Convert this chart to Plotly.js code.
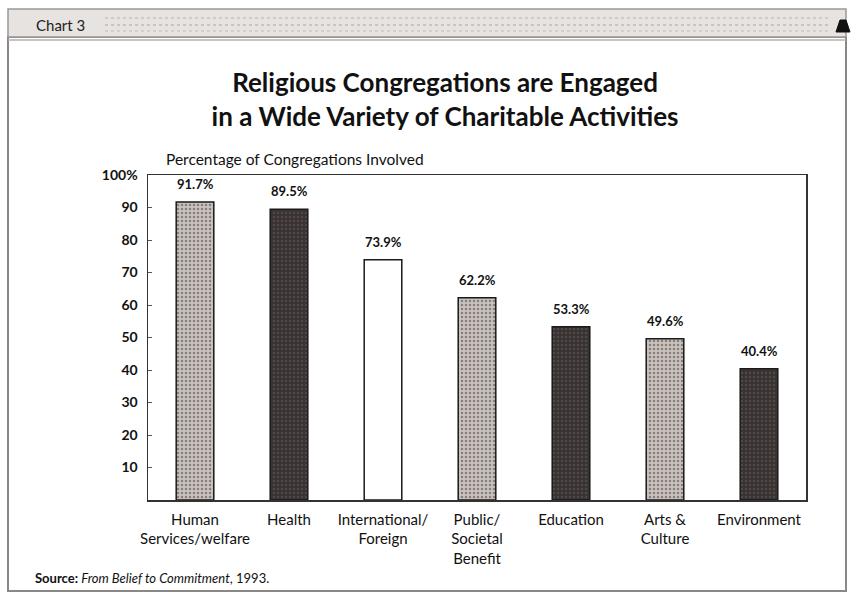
<!DOCTYPE html>
<html>
<head>
<meta charset="utf-8">
<script src="https://cdn.plot.ly/plotly-3.0.1.min.js"></script>
<style>
  html, body { margin: 0; padding: 0; background: #ffffff; }
  #chart { width: 851px; height: 597px; }
</style>
</head>
<body>
<div id="chart"></div>
<script>
// Share of congregations involved in each activity area (%)
const categories = [
  "Human<br>Services/welfare",
  "Health",
  "International/<br>Foreign",
  "Public/<br>Societal<br>Benefit",
  "Education",
  "Arts &amp;<br>Culture",
  "Environment"
];
const values = [91.7, 89.5, 73.9, 62.2, 53.3, 49.6, 40.4];
const yTickValues = [10, 20, 30, 40, 50, 60, 70, 80, 90, 100];
const yTickLabels = ["10", "20", "30", "40", "50", "60", "70", "80", "90", "100%"];

// Fill style per bar: stippled grey, solid dark, or open
const barStyle = ["grey", "dark", "open", "grey", "dark", "grey", "dark"];

const FONT = "Lato, 'Open Sans', sans-serif";

// Plot area in pixels: x 148..806, y 175..500
const L = 148, R = 806, T = 175, B = 500;
const px = x => (x - L) / (R - L);
const py = y => (B - y) / (B - T);

// One trace per fill style, each drawn at its own category slot
const looks = {
  grey: { color: "#bdb6b1", pattern: { shape: ".", fgcolor: "#867e7a", bgcolor: "#c9c2bd", size: 4, solidity: 0.3, fillmode: "replace" } },
  dark: { color: "#3a3434", pattern: { shape: ".", fgcolor: "#4f4846", bgcolor: "#383232", size: 4, solidity: 0.3, fillmode: "replace" } },
  open: { color: "#ffffff" }
};

const traces = Object.keys(looks).map(style => {
  const idx = barStyle.map((s, i) => s === style ? i : -1).filter(i => i >= 0);
  return {
    type: "bar",
    name: style,
    x: idx.map(i => categories[i]),
    y: idx.map(i => values[i]),
    width: 0.4,
    marker: Object.assign({ line: { color: "#1a1a1a", width: 1.5 } }, looks[style]),
    hoverinfo: "x+y"
  };
});

// Value labels above each bar
const valueLabels = categories.map((c, i) => ({
  x: c, y: values[i], xref: "x", yref: "y",
  text: "<b>" + values[i].toFixed(1) + "%</b>",
  showarrow: false, yanchor: "bottom", yshift: 8,
  font: { family: FONT, size: 13, color: "#111111" }
}));

const layout = {
  width: 851,
  height: 597,
  margin: { l: L, r: 851 - R, t: T, b: 597 - B, pad: 0 },
  paper_bgcolor: "#ffffff",
  plot_bgcolor: "#ffffff",
  showlegend: false,
  barmode: "overlay",
  font: { family: FONT, color: "#111111" },
  title: {
    text: "<b>Religious Congregations are Engaged<br>in a Wide Variety of Charitable Activities</b>",
    font: { family: FONT, size: 26, color: "#111111" },
    x: 0.523, xanchor: "center",
    y: 0.846, yanchor: "middle"
  },
  xaxis: {
    type: "category",
    categoryorder: "array", categoryarray: categories,
    range: [-0.5, 6.5],
    showline: true, linecolor: "#333333", linewidth: 1.5, mirror: true,
    ticks: "", showgrid: false, zeroline: false,
    tickfont: { family: FONT, size: 15, color: "#111111" },
    tickangle: 0,
    ticklabelstandoff: 5
  },
  yaxis: {
    range: [0, 100],
    showline: true, linecolor: "#333333", linewidth: 1.5, mirror: true,
    showgrid: false, zeroline: false,
    tickmode: "array", tickvals: yTickValues, ticktext: yTickLabels,
    ticks: "inside", ticklen: 4, tickcolor: "#555555",
    tickfont: { family: FONT, size: 14, color: "#111111", weight: "bold" },
    ticklabelstandoff: 6
  },
  shapes: [
    // outer frame
    { type: "rect", xref: "paper", yref: "paper",
      x0: px(8), x1: px(846), y0: py(591), y1: py(37),
      line: { color: "#8a8886", width: 2 }, fillcolor: "rgba(0,0,0,0)", layer: "below" },
    // header band
    { type: "rect", xref: "paper", yref: "paper",
      x0: px(8), x1: px(846), y0: py(37), y1: py(9),
      line: { color: "#9a9896", width: 1.5 }, fillcolor: "#e6e3e0", layer: "below" },
    { type: "line", xref: "paper", yref: "paper",
      x0: px(8), x1: px(846), y0: py(40), y1: py(40),
      line: { color: "#b5b2af", width: 1.5 } },
    // header texture lines
    { type: "line", xref: "paper", yref: "paper",
      x0: px(105), x1: px(830), y0: py(18), y1: py(18),
      line: { color: "#cfcbc8", width: 2, dash: "dot" } },
    { type: "line", xref: "paper", yref: "paper",
      x0: px(105), x1: px(830), y0: py(25), y1: py(25),
      line: { color: "#c8c4c1", width: 2, dash: "dot" } },
    { type: "line", xref: "paper", yref: "paper",
      x0: px(105), x1: px(830), y0: py(31), y1: py(31),
      line: { color: "#d2cfcc", width: 2, dash: "dot" } },
    // bell icon on the header
    { type: "path", xref: "paper", yref: "paper",
      path: "M " + px(836) + "," + py(32) + " L " + px(840) + "," + py(20) +
            " L " + px(846) + "," + py(20) + " L " + px(850) + "," + py(32) + " Z",
      fillcolor: "#111111", line: { color: "#111111", width: 1 } }
  ],
  annotations: valueLabels.concat([
    { text: "Chart 3", xref: "paper", yref: "paper",
      x: px(34), y: py(25), xanchor: "left", yanchor: "middle", showarrow: false,
      font: { family: FONT, size: 15, color: "#222222" } },
    { text: "Percentage of Congregations Involved", xref: "paper", yref: "paper",
      x: px(164), y: py(159), xanchor: "left", yanchor: "middle", showarrow: false,
      font: { family: FONT, size: 15.5, color: "#111111" } },
    { text: "<b>Source:</b> <i>From Belief to Commitment</i>, 1993.", xref: "paper", yref: "paper",
      x: px(33), y: py(578), xanchor: "left", yanchor: "middle", showarrow: false,
      font: { family: FONT, size: 13, color: "#111111" } }
  ])
};

Plotly.newPlot("chart", traces, layout, { displayModeBar: false, staticPlot: true });
</script>
</body>
</html>
